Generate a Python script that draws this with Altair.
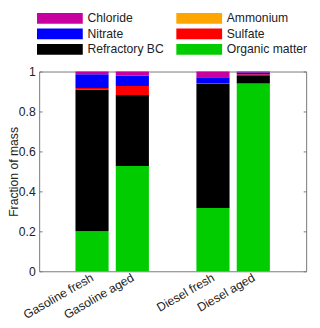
import altair as alt
import pandas as pd

samples = ["Gasoline fresh", "Gasoline aged", "Diesel fresh", "Diesel aged"]
positions = [1, 2, 4, 5]
components = ["Chloride", "Ammonium", "Nitrate", "Sulfate", "Refractory BC", "Organic matter"]
colors = ["#c800a0", "#ffa500", "#0000ff", "#ff0000", "#000000", "#00cc00"]
stack_rank = {"Organic matter": 0, "Refractory BC": 1, "Sulfate": 2, "Ammonium": 3, "Nitrate": 4, "Chloride": 5}

organic = [0.200, 0.527, 0.317, 0.940]
bc = [0.709, 0.356, 0.620, 0.042]
sulfate = [0.008, 0.045, 0.004, 0.005]
ammonium = [0.0, 0.0, 0.0, 0.0]
nitrate = [0.070, 0.052, 0.031, 0.008]
chloride = [0.013, 0.020, 0.028, 0.005]

series = {
    "Organic matter": organic,
    "Refractory BC": bc,
    "Sulfate": sulfate,
    "Ammonium": ammonium,
    "Nitrate": nitrate,
    "Chloride": chloride,
}

rows = []
for comp, vals in series.items():
    for s, p, v in zip(samples, positions, vals):
        rows.append({"sample": s, "pos": p, "component": comp, "value": v, "rank": stack_rank[comp]})
df = pd.DataFrame(rows)

FONT = "Liberation Sans"
label_expr = "datum.value == 1 ? 'Gasoline fresh' : datum.value == 2 ? 'Gasoline aged' : datum.value == 4 ? 'Diesel fresh' : 'Diesel aged'"

xenc = alt.X("pos:Q", scale=alt.Scale(domain=[-0.19, 6.19], nice=False, zero=False),
             axis=alt.Axis(values=positions, labelExpr=label_expr, labelAngle=-30,
                           labelAlign="right", labelBaseline="middle", labelPadding=5,
                           labelOverlap=False, labelBound=False, labelFlush=False,
                           ticks=False, domain=False, grid=False, title=None,
                           labelFont=FONT, labelFontSize=12.5, labelColor="#222"))

yscale = alt.Scale(domain=[0, 1], nice=False)

bars = alt.Chart(df).mark_bar(size=34).encode(
    x=xenc,
    y=alt.Y("value:Q", stack="zero", scale=yscale,
            axis=alt.Axis(values=[0, 0.2, 0.4, 0.6, 0.8, 1], format="~g", orient="left",
                          offset=-3, tickSize=3, tickColor="#777", domain=False, grid=False,
                          labelPadding=4, labelFont=FONT, labelFontSize=12.5, labelColor="#222",
                          title="Fraction of mass", titleFont=FONT, titleFontSize=12.5,
                          titleFontWeight="normal", titleColor="#222", titlePadding=-2)),
    color=alt.Color("component:N", scale=alt.Scale(domain=components, range=colors),
                    legend=alt.Legend(title=None, orient="none", legendX=15, legendY=-61,
                                      columns=2, direction="horizontal",
                                      symbolType="M-4.27,-1H4.27V1H-4.27Z", symbolSize=121,
                                      symbolStrokeWidth=0, symbolOpacity=1,
                                      labelFont=FONT, labelFontSize=12.5, labelColor="#222",
                                      labelOffset=22, rowPadding=3, columnPadding=12)),
    order=alt.Order("rank:Q"),
)

right = alt.Chart(df).mark_bar(size=34, opacity=0).encode(
    x=xenc,
    y=alt.Y("value:Q", stack="zero", scale=yscale,
            axis=alt.Axis(values=[0, 0.2, 0.4, 0.6, 0.8, 1], orient="right", offset=-3,
                          tickSize=3, tickColor="#777", domain=False, grid=False,
                          labels=False, title=None)),
    order=alt.Order("rank:Q"),
)

chart = alt.layer(bars, right).resolve_scale(y="independent").properties(
    width=274, height=205,
    autosize=alt.AutoSizeParams(type="none"),
    padding={"left": 32, "top": 61, "right": 6, "bottom": 54},
).configure_view(stroke="#777", strokeWidth=1)

chart.save("out.html", embed_options={"renderer": "svg", "actions": False})
